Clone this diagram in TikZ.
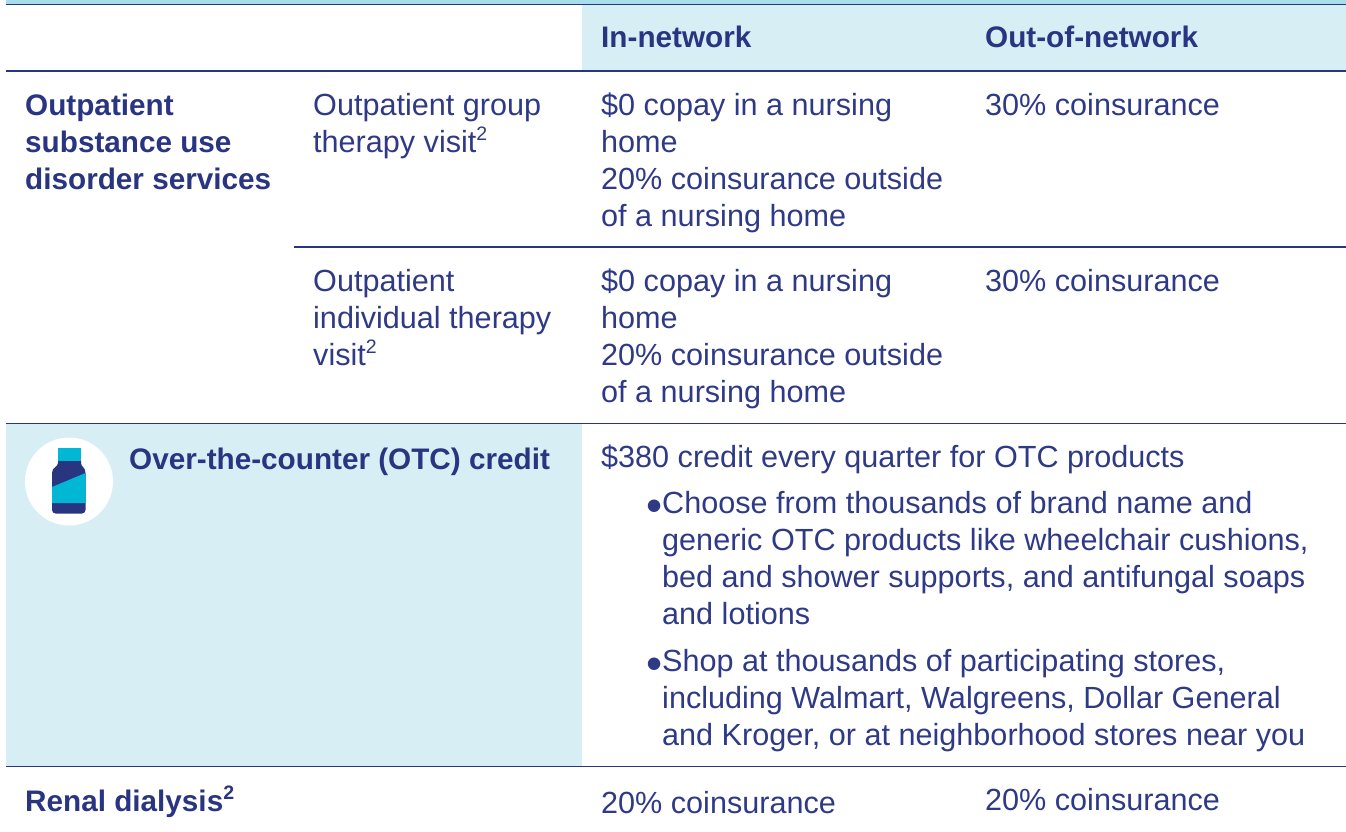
\documentclass[tikz,border=0pt]{standalone}
\usepackage{fontspec}
\setmainfont{Liberation Sans}
\definecolor{navy}{HTML}{2A3582}
\definecolor{ink}{HTML}{2F3A87}
\definecolor{pale}{HTML}{D7EEF5}
\definecolor{strip}{HTML}{A8DDEC}
\definecolor{cyanb}{HTML}{00B8D4}
\newcommand{\sups}[1]{\raisebox{12pt}{\fontsize{19.5}{19.5}\selectfont #1}}
\tikzset{
  x=1pt,y=-1pt,
  body/.style={anchor=base west,align=left,inner sep=0pt,text=ink,font=\fontsize{30.6}{37}\selectfont},
  head/.style={body,text=navy,font=\fontsize{29.7}{37}\selectfont\bfseries},
  dotmark/.style={body,font=\fontsize{46}{37}\selectfont},
  rule/.style={draw=navy,line width=1.1pt},
  band/.style={fill=pale,draw=none}
}
\begin{document}
\begin{tikzpicture}
\useasboundingbox (0,0) rectangle (1346,832);
\fill[strip] (5.5,0) rectangle (1346,4);
\fill[band] (582,5) rectangle (1346,71);
\fill[band] (6,424) rectangle (582,766);
\coordinate (l0a) at (5.5,4.8); \coordinate (l0b) at (1346,4.8);
\coordinate (l1a) at (5.5,71); \coordinate (l1b) at (1346,71);
\coordinate (l2a) at (294,247); \coordinate (l2b) at (1346,247);
\coordinate (l3a) at (5.5,423.5); \coordinate (l3b) at (1346,423.5);
\coordinate (l4a) at (5.5,766.5); \coordinate (l4b) at (1346,766.5);
\draw[rule] (l0a) -- (l0b);
\draw[rule] (l1a) -- (l1b);
\draw[rule] (l2a) -- (l2b);
\draw[rule] (l3a) -- (l3b);
\draw[rule] (l4a) -- (l4b);
% icon
\fill[white] (69,481.5) circle (44);
\fill[navy] (58,461) -- (81,461) -- (81,463) .. controls (81,467) and (85.5,467) .. (85.5,473) -- (85.5,510) arc (0:90:3.5) -- (55.5,513.5) arc (90:180:3.5) -- (52,473) .. controls (52,467) and (58,467) .. (58,463) -- cycle;
\fill[cyanb] (52,487) -- (85.5,473) -- (85.5,503) -- (52,503) -- cycle;
\fill[cyanb] (58,448) rectangle (81,461);
% header
\node[head] (hin) at (601,48) {In-network};
\node[head] (hout) at (985,48) {Out-of-network};
% rows
\node[head] (r1) at (25,189.7) {Outpatient\\substance use\\disorder services};
\node[body] (r1a) at (313,152.5) {Outpatient group\\therapy visit\sups{2}};
\node[body] (r1b) at (601,226.5) {\$0 copay in a nursing\\home\\20\% coinsurance outside\\of a nursing home};
\node[body] (r1c) at (985,115.5) {30\% coinsurance};
\node[body] (r2a) at (313,365.5) {Outpatient\\individual therapy\\visit\sups{2}};
\node[body] (r2b) at (601,402.5) {\$0 copay in a nursing\\home\\20\% coinsurance outside\\of a nursing home};
\node[body] (r2c) at (985,291.5) {30\% coinsurance};
\node[head] (otc) at (129,469.5) {Over-the-counter (OTC) credit};
\node[body] (otcm) at (601,467.5) {\$380 credit every quarter for OTC products};
\node[dotmark] (b1) at (646,521.5) {•};
\node[body] (t1) at (662,624.5) {Choose from thousands of brand name and\\generic OTC products like wheelchair cushions,\\bed and shower supports, and antifungal soaps\\and lotions};
\node[dotmark] (b2) at (646,679.5) {•};
\node[body] (t2) at (662,745.5) {Shop at thousands of participating stores,\\including Walmart, Walgreens, Dollar General\\and Kroger, or at neighborhood stores near you};
\node[head] (ren) at (25,811) {Renal dialysis\sups{2}};
\node[body] (renin) at (601,813.5) {20\% coinsurance};
\node[body] (renout) at (985,810.5) {20\% coinsurance};
\end{tikzpicture}
\end{document}
